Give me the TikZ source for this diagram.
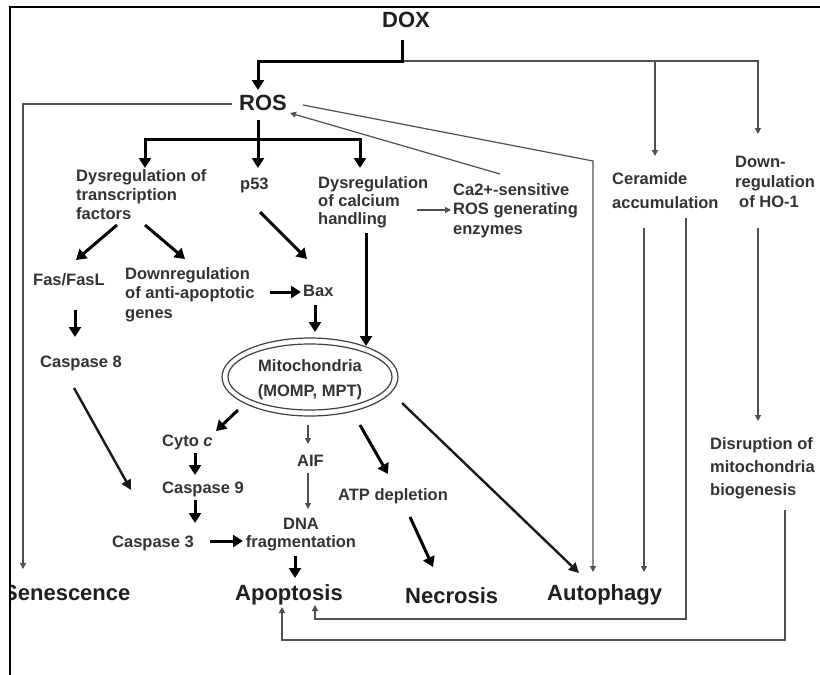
\documentclass[tikz,border=0pt]{standalone}
\usepackage{fontspec}
\setmainfont{Liberation Sans}
\usetikzlibrary{arrows.meta}
\definecolor{txt}{HTML}{333333}
\definecolor{lgray}{HTML}{505050}
\tikzset{
  lbl/.style={inner sep=0pt, text=txt, font=\fontsize{16.5}{19}\selectfont\bfseries, align=left},
  big/.style={inner sep=0pt, text=black!88, font=\fontsize{22}{26}\selectfont\bfseries},
  thk/.style={line width=3pt, black, -{Triangle[length=10pt,width=12pt]}},
  thkb/.style={line width=3pt, black, {Triangle[length=10pt,width=12pt]}-{Triangle[length=10pt,width=12pt]}},
  med/.style={line width=2.4pt, black!90, -{Triangle[length=10pt,width=10pt]}},
  thn/.style={line width=1.2pt, lgray, -{Triangle[length=6pt,width=6pt]}},
  ring/.style={line width=1.2pt, black!75},
}
\begin{document}
\begin{tikzpicture}[x=1pt,y=-1pt]
\useasboundingbox (0,0) rectangle (820,675);
\fill[white] (0,0) rectangle (820,675);

% ---- text nodes
\node[big, anchor=base] (dox) at (406,27) {DOX};
\node[big, anchor=base] (ros) at (263,110) {ROS};
\node[lbl, anchor=north west] (trans) at (76,169) {Dysregulation of\\transcription\\factors};
\node[lbl, anchor=base west] (p53) at (240,189) {p53};
\node[lbl, anchor=north west, font=\fontsize{16.5}{18}\selectfont\bfseries] (calc) at (318,176) {Dysregulation\\of calcium\\handling};
\node[lbl, anchor=north west, font=\fontsize{16.5}{19.5}\selectfont\bfseries] (ca2) at (453,183) {Ca2+-sensitive\\ROS generating\\enzymes};
\node[lbl, anchor=north west, font=\fontsize{16.5}{24}\selectfont\bfseries] (cer) at (612,172) {Ceramide\\accumulation};
\node[lbl, anchor=north west, font=\fontsize{16.5}{20}\selectfont\bfseries] (ho1) at (735,156) {Down-\\regulation\\\hspace*{4pt}of HO-1};
\node[lbl, anchor=north west, font=\fontsize{16.5}{23}\selectfont\bfseries] (disr) at (710,437) {Disruption of\\mitochondria\\biogenesis};
\node[lbl, anchor=base west] (fas) at (33,285) {Fas/FasL};
\node[lbl, anchor=north west, font=\fontsize{16.5}{19.5}\selectfont\bfseries] (down) at (125,267) {Downregulation\\of anti-apoptotic\\genes};
\node[lbl, anchor=base west] (bax) at (303,296) {Bax};
\node[lbl, anchor=base west] (c8) at (40,367) {Caspase 8};
\node[lbl, align=center, font=\fontsize{16.5}{25}\selectfont\bfseries] (mito) at (310,380) {Mitochondria\\(MOMP, MPT)};
\draw[ring] (mito.center) ++(0,-3) ellipse [x radius=88pt, y radius=39pt];
\draw[ring] (mito.center) ++(0,-3) ellipse [x radius=82pt, y radius=33pt];
\node[lbl, anchor=base west] (cyto) at (162,446) {Cyto \textit{c}};
\node[lbl, anchor=base west] (c9) at (162,493) {Caspase 9};
\node[lbl, anchor=base west] (aif) at (297,466) {AIF};
\node[lbl, anchor=base west] (atp) at (338,500) {ATP depletion};
\node[lbl, anchor=base west] (c3) at (112,547) {Caspase 3};
\node[lbl, align=center, anchor=north, font=\fontsize{16.5}{18}\selectfont\bfseries] (dna) at (301,518) {DNA\\fragmentation};
\node[big, anchor=base west] (sen) at (3,600) {Senescence};
\node[big, anchor=base west] (apo) at (235,600) {Apoptosis};
\node[big, anchor=base west] (nec) at (405,603) {Necrosis};
\node[big, anchor=base west] (aut) at (547,600) {Autophagy};

% ---- connector points
\coordinate (doxA) at (402,40);
\coordinate (doxJ) at (402,61);
\coordinate (rosT) at (258,90);
\coordinate (cerJ) at (655,61);
\coordinate (cerT) at (655,156);
\coordinate (hoT) at (758,134);
\coordinate (rosL) at (232,104);
\coordinate (senT) at (23,569);
\coordinate (rosR) at (303,105);
\coordinate (autC) at (593,161);
\coordinate (autT1) at (593,572);
\coordinate (ca2S) at (500,174);
\coordinate (rosB) at (290,113);
\coordinate (rosD) at (258,120);
\coordinate (p53T) at (258,168);
\coordinate (trT) at (145,168);
\coordinate (trC) at (145,139);
\coordinate (caC) at (360,139);
\coordinate (caT) at (360,168);
\coordinate (calcR) at (417,210);
\coordinate (ca2L) at (451,210);
\coordinate (trA) at (117,225);
\coordinate (fasT) at (76,260);
\coordinate (trB) at (145,225);
\coordinate (downT) at (185,259);
\coordinate (p53B) at (260,212);
\coordinate (baxT) at (307,259);
\coordinate (fasB) at (75,310);
\coordinate (c8T) at (75,337);
\coordinate (downR) at (270,292);
\coordinate (baxL) at (301,292);
\coordinate (baxB) at (315,305);
\coordinate (mitoT) at (315,332);
\coordinate (calcB) at (366,233);
\coordinate (mitoTR) at (366,346);
\coordinate (c8B) at (74,388);
\coordinate (c3T) at (131,490);
\coordinate (mitoL) at (238,410);
\coordinate (cytoT) at (216,431);
\coordinate (cytoB) at (195,453);
\coordinate (c9T) at (195,475);
\coordinate (mitoB) at (308,425);
\coordinate (aifT) at (308,444);
\coordinate (aifB) at (308,473);
\coordinate (dnaT) at (308,509);
\coordinate (mitoBR) at (360,425);
\coordinate (atpT) at (388,474);
\coordinate (mitoR) at (402,403);
\coordinate (autT0) at (579,573);
\coordinate (c9B) at (195,500);
\coordinate (c3T2) at (195,523);
\coordinate (c3R) at (210,541);
\coordinate (dnaL) at (243,541);
\coordinate (dnaB) at (295,556);
\coordinate (apoT) at (295,578);
\coordinate (atpB) at (410,517);
\coordinate (necT) at (433,567);
\coordinate (cerB1) at (644,228);
\coordinate (autT2) at (644,572);
\coordinate (cerB2) at (686,218);
\coordinate (ret1) at (686,619);
\coordinate (apoB1) at (315,605);
\coordinate (hoB) at (758,228);
\coordinate (disrT) at (758,421);
\coordinate (disrB) at (785,510);
\coordinate (ret2) at (785,640);
\coordinate (apoB2) at (282,607);

% ---- thin connectors
\draw[thn] (doxJ) -| (hoT);
\draw[thn] (cerJ) -- (cerT);
\draw[thn] (rosL) -| (senT);
\draw[thn] (rosR) -- (autC) -- (autT1);
\draw[thn] (ca2S) -- (rosB);
\draw[thn] (calcR) -- (ca2L);
\draw[thn] (mitoB) -- (aifT);
\draw[thn] (aifB) -- (dnaT);
\draw[thn] (cerB1) -- (autT2);
\draw[thn] (cerB2) -- (ret1) -| (apoB1);
\draw[thn] (hoB) -- (disrT);
\draw[thn] (disrB) -- (ret2) -| (apoB2);

% ---- thick connectors
\draw[thk] (doxA) -- (doxJ) -| (rosT);
\draw[thk] (rosD) -- (p53T);
\draw[thkb] (trT) |- (caC) -- (caT);
\draw[thk] (trA) -- (fasT);
\draw[thk] (trB) -- (downT);
\draw[thk] (p53B) -- (baxT);
\draw[thk] (fasB) -- (c8T);
\draw[thk] (downR) -- (baxL);
\draw[thk] (baxB) -- (mitoT);
\draw[thk] (calcB) -- (mitoTR);
\draw[med] (c8B) -- (c3T);
\draw[thk] (mitoL) -- (cytoT);
\draw[thk] (cytoB) -- (c9T);
\draw[thk] (mitoBR) -- (atpT);
\draw[med] (mitoR) -- (autT0);
\draw[thk] (c9B) -- (c3T2);
\draw[thk] (c3R) -- (dnaL);
\draw[thk] (dnaB) -- (apoT);
\draw[thk] (atpB) -- (necT);

% ---- frame
\fill[white] (0,570) rectangle (9,615);
\draw[line width=2.5pt, black] (10,675) -- (10,7) -- (820,7);
\end{tikzpicture}
\end{document}
